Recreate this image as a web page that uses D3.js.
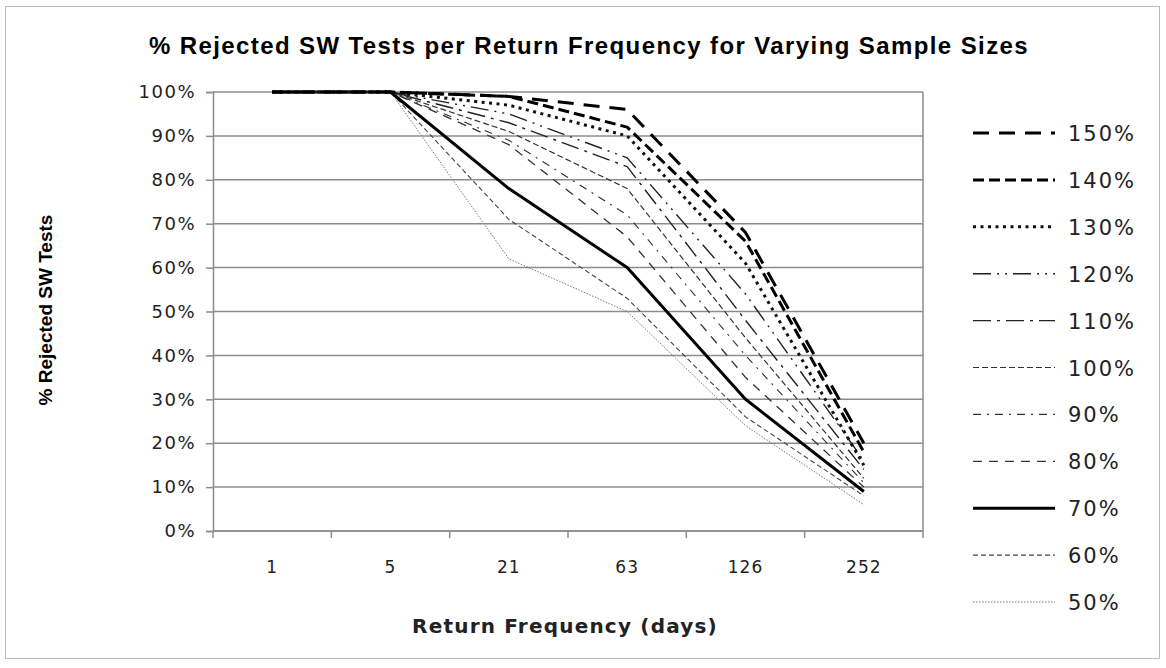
<!DOCTYPE html>
<html>
<head>
<meta charset="utf-8">
<script src="https://cdn.jsdelivr.net/npm/d3@7"></script>
<style>
  body { margin: 0; background: #fff; }
  svg { display: block; }
</style>
</head>
<body>
<div id="chart"></div>
<script>
// Data
var frequencies = ['1', '5', '21', '63', '126', '252']
var sampleSizes = ['150%', '140%', '130%', '120%', '110%', '100%', '90%', '80%', '70%', '60%', '50%']
var rejected150 = [1.00, 1.00, 0.99, 0.96, 0.68, 0.20]
var rejected140 = [1.00, 1.00, 0.99, 0.92, 0.66, 0.18]
var rejected130 = [1.00, 1.00, 0.97, 0.90, 0.61, 0.15]
var rejected120 = [1.00, 1.00, 0.95, 0.85, 0.54, 0.16]
var rejected110 = [1.00, 1.00, 0.93, 0.83, 0.48, 0.14]
var rejected100 = [1.00, 1.00, 0.91, 0.78, 0.44, 0.12]
var rejected90 = [1.00, 1.00, 0.89, 0.72, 0.40, 0.11]
var rejected80 = [1.00, 1.00, 0.88, 0.67, 0.35, 0.10]
var rejected70 = [1.00, 1.00, 0.78, 0.60, 0.30, 0.09]
var rejected60 = [1.00, 1.00, 0.71, 0.53, 0.26, 0.08]
var rejected50 = [1.00, 1.00, 0.62, 0.50, 0.24, 0.06]
var yTicks = [0, 0.1, 0.2, 0.3, 0.4, 0.5, 0.6, 0.7, 0.8, 0.9, 1.0]

var allSeries = [rejected150, rejected140, rejected130, rejected120, rejected110,
  rejected100, rejected90, rejected80, rejected70, rejected60, rejected50]

// line styles per series (same order as sampleSizes)
var styles = [
  { w: 3, dash: '16,10', color: '#000' },
  { w: 3, dash: '11,5', color: '#000' },
  { w: 3, dash: '3,4.5', color: '#111' },
  { w: 1.4, dash: '18,6,2,6,2,6', color: '#222' },
  { w: 1.4, dash: '18,6,3,6', color: '#222' },
  { w: 1.2, dash: '6,3', color: '#333' },
  { w: 1.1, dash: '8,6,2,6', color: '#333' },
  { w: 1.3, dash: '9,7', color: '#333' },
  { w: 3, dash: null, color: '#000' },
  { w: 1.1, dash: '5,3', color: '#444' },
  { w: 1, dash: '1.5,1.5', color: '#777' }
]

var totalW = 1166
var totalH = 668
var margin = { top: 92, left: 213, right: 243, bottom: 137 }
var width = totalW - margin.left - margin.right
var height = totalH - margin.top - margin.bottom

var svg = d3.select('#chart')
  .append('svg')
  .attr('width', totalW)
  .attr('height', totalH)

// outer chart border
svg.append('rect')
  .attr('x', 5.5)
  .attr('y', 6.5)
  .attr('width', 1154)
  .attr('height', 652)
  .attr('fill', 'none')
  .attr('stroke', '#bbb')

svg.append('text')
  .attr('x', 589)
  .attr('y', 54)
  .attr('text-anchor', 'middle')
  .style('font-family', "'Liberation Sans', sans-serif")
  .style('font-weight', 'bold')
  .style('font-size', '24px')
  .style('letter-spacing', '1.4px')
  .text('% Rejected SW Tests per Return Frequency for Varying Sample Sizes')

var g = svg.append('g')
  .attr('transform', `translate(${margin.left},${margin.top})`)

var xPositionScale = d3.scaleBand().domain(frequencies).range([0, width])
var yPositionScale = d3.scaleLinear().domain([0, 1]).range([height, 0])

// gridlines
g.selectAll('.grid')
  .data(yTicks)
  .enter()
  .append('line')
  .attr('class', 'grid')
  .attr('x1', 0)
  .attr('x2', width)
  .attr('y1', d => yPositionScale(d))
  .attr('y2', d => yPositionScale(d))
  .attr('stroke', '#8c8c8c')
  .attr('stroke-width', 1.5)

// plot area right edge
g.append('line')
  .attr('x1', width)
  .attr('x2', width)
  .attr('y1', 0)
  .attr('y2', height)
  .attr('stroke', '#8c8c8c')
  .attr('stroke-width', 1.5)

// y axis
var yAxis = d3.axisLeft(yPositionScale)
  .tickValues(yTicks)
  .tickFormat(d3.format('.0%'))
  .tickSize(7)
  .tickPadding(10)

var yAxisG = g.append('g')
  .attr('class', 'axis y-axis')
  .call(yAxis)
yAxisG.select('.domain').attr('stroke', '#8c8c8c').attr('stroke-width', 1.5)
yAxisG.selectAll('.tick line').attr('stroke', '#8c8c8c').attr('stroke-width', 1.5)
yAxisG.selectAll('text')
  .style('font-family', "'DejaVu Sans', sans-serif")
  .style('font-size', '18px')
  .style('letter-spacing', '1.5px')
  .attr('fill', '#222')

// x axis: ticks between categories, labels centred
var xAxisG = g.append('g')
  .attr('class', 'axis x-axis')
  .attr('transform', `translate(0,${height})`)

xAxisG.append('line')
  .attr('x1', 0)
  .attr('x2', width)
  .attr('stroke', '#8c8c8c')
  .attr('stroke-width', 1.5)

var boundaries = frequencies.map(d => xPositionScale(d)).concat([width])
xAxisG.selectAll('.xtick')
  .data(boundaries)
  .enter()
  .append('line')
  .attr('class', 'xtick')
  .attr('x1', d => d)
  .attr('x2', d => d)
  .attr('y1', 0)
  .attr('y2', 7)
  .attr('stroke', '#8c8c8c')
  .attr('stroke-width', 1.5)

xAxisG.selectAll('.xlabel')
  .data(frequencies)
  .enter()
  .append('text')
  .attr('class', 'xlabel')
  .attr('x', d => xPositionScale(d) + xPositionScale.bandwidth() / 2)
  .attr('y', 42)
  .attr('text-anchor', 'middle')
  .style('font-family', "'DejaVu Sans', sans-serif")
  .style('font-size', '17px')
  .style('letter-spacing', '1px')
  .attr('fill', '#222')
  .text(d => d)

// axis titles
svg.append('text')
  .attr('x', 565)
  .attr('y', 633)
  .attr('text-anchor', 'middle')
  .style('font-family', "'DejaVu Sans', sans-serif")
  .style('font-weight', 'bold')
  .style('font-size', '20px')
  .style('letter-spacing', '1.2px')
  .attr('fill', '#222')
  .text('Return Frequency (days)')

svg.append('text')
  .attr('transform', 'translate(52,310) rotate(-90)')
  .attr('text-anchor', 'middle')
  .style('font-family', "'Liberation Sans', sans-serif")
  .style('font-weight', 'bold')
  .style('font-size', '19px')
  .text('% Rejected SW Tests')

// lines
var line = d3.line()
  .x((d, i) => xPositionScale(frequencies[i]) + xPositionScale.bandwidth() / 2)
  .y(d => yPositionScale(d))

// draw smaller samples first so thick dashed lines sit on top
for (var k = allSeries.length - 1; k >= 0; k--) {
  g.append('path')
    .datum(allSeries[k])
    .attr('d', line)
    .attr('fill', 'none')
    .attr('stroke', styles[k].color)
    .attr('stroke-width', styles[k].w)
    .attr('stroke-dasharray', styles[k].dash)
    .attr('stroke-linejoin', 'round')
}

// legend
var legend = svg.append('g')
  .attr('transform', 'translate(973,133)')

var legendItems = legend.selectAll('.legend-item')
  .data(sampleSizes)
  .enter()
  .append('g')
  .attr('class', 'legend-item')
  .attr('transform', (d, i) => `translate(0,${i * 46.9})`)

legendItems.append('line')
  .attr('x1', 0)
  .attr('x2', 82)
  .attr('stroke', (d, i) => styles[i].color)
  .attr('stroke-width', (d, i) => styles[i].w)
  .attr('stroke-dasharray', (d, i) => styles[i].dash)

legendItems.append('text')
  .attr('x', 95)
  .attr('y', 8)
  .style('font-family', "'DejaVu Sans', sans-serif")
  .style('font-size', '21px')
  .style('letter-spacing', '2px')
  .attr('fill', '#222')
  .text(d => d)
</script>
</body>
</html>
